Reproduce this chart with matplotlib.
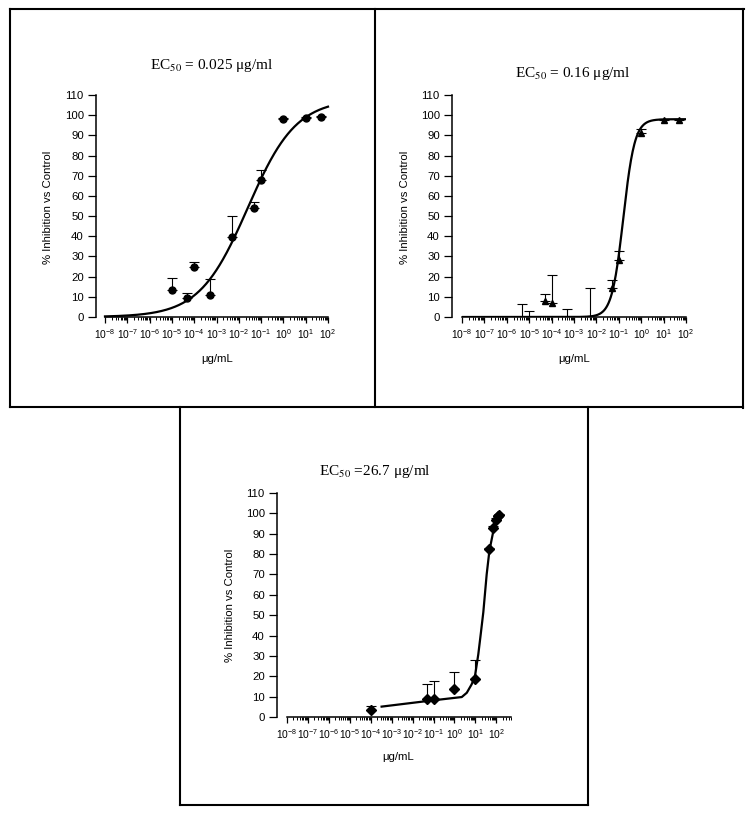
import numpy as np
import matplotlib
matplotlib.use("Agg")
import matplotlib.pyplot as plt
from matplotlib.lines import Line2D
from matplotlib.ticker import FixedLocator, FixedFormatter, NullFormatter

plt.rcParams['font.family'] = ['Liberation Sans', 'DejaVu Sans']
plt.rcParams['mathtext.fontset'] = 'custom'
plt.rcParams['mathtext.rm'] = 'Liberation Sans'
plt.rcParams['mathtext.it'] = 'Liberation Sans:italic'
plt.rcParams['mathtext.bf'] = 'Liberation Sans:bold'

W, H = 751, 815

# ---------------- data ----------------
x_tick_exponents = [-8, -7, -6, -5, -4, -3, -2, -1, 0, 1, 2]
x_tick_labels = [r'10$^{%d}$' % e for e in x_tick_exponents]
y_ticks = [0, 10, 20, 30, 40, 50, 60, 70, 80, 90, 100, 110]

# Panel A (circles)
a_title = r"EC$_{\mathrm{50}}$ = 0.025 μg/ml"
a_conc = [1e-5, 5e-5, 1e-4, 5e-4, 5e-3, 5e-2, 1e-1, 1, 10, 50]
a_mean = [13.5, 9.4, 25.0, 10.7, 39.6, 53.8, 68.0, 98.0, 98.6, 99.3]
a_err = [5.8, 2.5, 2.2, 8.1, 10.2, 3.1, 4.9, 0.4, 0.3, 0.3]
a_fit = dict(bottom=0.0, top=108.0, logec50=-1.6, hill=0.4)

# Panel B (triangles)
b_title = r"EC$_{\mathrm{50}}$ = 0.16 μg/ml"
b_conc = [5e-6, 1e-5, 5e-5, 1e-4, 5e-4, 5e-3, 5e-2, 1e-1, 1, 10, 50]
b_mean = [-3.0, -2.0, 8.1, 6.9, -2.0, -3.0, 14.3, 28.3, 91.4, 97.8, 97.8]
b_err = [9.6, 4.8, 3.1, 13.8, 6.0, 17.3, 4.1, 4.5, 2.0, 0.3, 0.3]
b_fit = dict(bottom=0.0, top=98.0, logec50=-0.8, hill=1.7)

# Panel C (diamonds)
c_title = r"EC$_{\mathrm{50}}$ =26.7 μg/ml"
c_conc = [1e-4, 5e-2, 1e-1, 1, 10, 45, 70, 95, 115, 140]
c_mean = [3.6, 9.0, 9.0, 13.8, 18.8, 82.4, 92.8, 96.6, 98.5, 99.3]
c_err = [1.6, 7.1, 8.7, 8.3, 9.2, 0.5, 1.0, 1.0, 0.5, 0.5]
c_curve_conc = [10**-3.48, 10**-1.17, 10**0.35, 10**0.59, 10**0.82, 10**0.98,
                10**1.14, 10**1.26, 10**1.38, 10**1.54, 10**1.67, 10**1.87, 10**1.95, 10**2.19]
c_curve_y = [5.1, 8.0, 9.8, 11.9, 16.0, 20.0, 30.8, 41.0, 51.5, 70.0, 81.6, 91.9, 96.0, 99.7]

ylabel = "% Inhibition vs Control"
xlabel = "μg/mL"


def four_pl(logx, bottom, top, logec50, hill):
    return bottom + (top - bottom) / (1 + 10 ** ((logec50 - logx) * hill))


def fx(px):
    return px / W


def fy(py):
    return 1 - py / H


fig = plt.figure(figsize=(W / 100, H / 100), dpi=100)
fig.patch.set_facecolor('white')


def make_axes(x0, x1, y_top, y_bot, xmax_exp, spine_gap):
    ax = fig.add_axes([fx(x0), fy(y_bot), (x1 - x0) / W, (y_bot - y_top) / H])
    ax.set_xscale('log')
    ax.set_xlim(1e-8, 10 ** xmax_exp)
    ax.set_ylim(0, 110)
    for s in ['top', 'right']:
        ax.spines[s].set_visible(False)
    ax.spines['left'].set_position(('outward', spine_gap * 0.72))
    ax.spines['left'].set_linewidth(1.1)
    ax.spines['bottom'].set_linewidth(1.1)
    ax.spines['left'].set_bounds(0, 110)
    ax.xaxis.set_major_locator(FixedLocator([10.0 ** e for e in x_tick_exponents]))
    ax.xaxis.set_major_formatter(FixedFormatter(x_tick_labels))
    minors = [m * 10.0 ** e for e in range(-8, 3) for m in range(2, 10)
              if m * 10.0 ** e <= 10 ** xmax_exp]
    ax.xaxis.set_minor_locator(FixedLocator(minors))
    ax.xaxis.set_minor_formatter(NullFormatter())
    ax.set_yticks(y_ticks)
    ax.tick_params(axis='y', direction='out', length=5.8, width=0.9, labelsize=8.2, pad=3.0)
    ax.tick_params(axis='x', which='major', direction='out', length=4.0, width=0.9,
                   labelsize=7.4, pad=3.2)
    ax.tick_params(axis='x', which='minor', direction='out', length=2.2, width=0.7)
    ax.patch.set_alpha(0)
    return ax


def draw_errors(ax, conc, mean, err, marker, ms):
    ax.errorbar(conc, mean, yerr=[np.zeros(len(err)), err], fmt='none',
                ecolor='black', elinewidth=0.8, capsize=3.3, capthick=0.8, zorder=3)
    ax.plot(conc, mean, linestyle='none', marker=marker, ms=ms, color='black', zorder=4)


# Panel A
axA = make_axes(105, 328, 95, 317, 2, 9)
lx = np.linspace(-8, 2, 400)
axA.plot(10 ** lx, four_pl(lx, **a_fit), color='black', lw=1.6, zorder=2, clip_on=False)
draw_errors(axA, a_conc, a_mean, a_err, 'o', 5.0)

# Panel B
axB = make_axes(462, 686, 95, 317, 2, 10)
axB.plot(10 ** lx, four_pl(lx, **b_fit), color='black', lw=1.6, zorder=2)
draw_errors(axB, b_conc, b_mean, b_err, '^', 5.0)

# Panel C
axC = make_axes(287, 287 + 10.7 * 20.93, 493, 717, 2.7, 10)
axC.plot(c_curve_conc, c_curve_y, color='black', lw=1.6, zorder=2)
draw_errors(axC, c_conc, c_mean, c_err, 'D', 4.6)

# titles
title_kw = dict(ha='center', va='center', fontsize=11, family='Liberation Serif',
                math_fontfamily='stix')
fig.text(fx(212), fy(65), a_title, **title_kw)
fig.text(fx(573), fy(73), b_title, **title_kw)
fig.text(fx(375), fy(472), c_title, **title_kw)

# axis labels
yl_kw = dict(ha='center', va='center', rotation=90, fontsize=8.2)
fig.text(fx(48), fy(207), ylabel, **yl_kw)
fig.text(fx(405), fy(207), ylabel, **yl_kw)
fig.text(fx(230), fy(605), ylabel, **yl_kw)
xl_kw = dict(ha='center', va='center', fontsize=8.2)
fig.text(fx(217), fy(359), xlabel, **xl_kw)
fig.text(fx(574), fy(359), xlabel, **xl_kw)
fig.text(fx(398), fy(757), xlabel, **xl_kw)

# panel frames
frame_lines = [
    ((10, 744), (9, 9)),
    ((10, 10), (9, 407)),
    ((375, 375), (9, 407)),
    ((743, 743), (9, 408)),
    ((10, 743), (407, 407)),
    ((180, 180), (407, 805)),
    ((588, 588), (407, 805)),
    ((180, 588), (805, 805)),
]
for xs, ys in frame_lines:
    fig.add_artist(Line2D([fx(xs[0]), fx(xs[1])], [fy(ys[0]), fy(ys[1])],
                          transform=fig.transFigure, color='black', lw=1.5))

fig.savefig('out.png', dpi=100, facecolor='white')
